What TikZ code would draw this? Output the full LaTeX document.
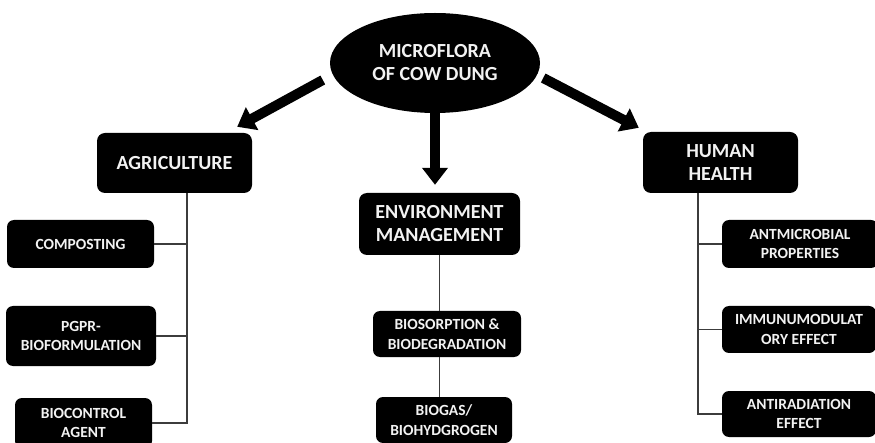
\documentclass[tikz,border=0pt]{standalone}
\usepackage{fontspec}
\setmainfont{Carlito}
\usetikzlibrary{arrows.meta,positioning,shapes.geometric,calc}
\definecolor{linegray}{RGB}{60,60,60}
\definecolor{boxtext}{RGB}{242,242,242}

\begin{document}
\begin{tikzpicture}[
    x=1pt, y=-1pt,
    hub/.style={ellipse, fill=black, text=boxtext, align=center, inner sep=0pt,
      font=\fontsize{20}{23}\selectfont\bfseries},
    catbox/.style={rounded corners=8pt, fill=black, text=boxtext, align=center, inner sep=0pt,
      font=\fontsize{20}{23}\selectfont\bfseries},
    subbox/.style={rounded corners=7pt, fill=black, text=boxtext, align=center, inner sep=0pt,
      font=\fontsize{15.5}{19.5}\selectfont\bfseries},
    bigarrow/.style={line width=10pt, -{Triangle[width=25pt,length=17pt]}},
    link/.style={draw=linegray, line width=1.5pt}
  ]
  \useasboundingbox (0,0) rectangle (875,443);
  \clip (0,0) rectangle (875,443);
  \fill[white] (0,0) rectangle (875,443);

  \node[hub, minimum width=210pt, minimum height=100pt] (micro) at (435,63) {MICROFLORA\\OF COW DUNG};

  \node[catbox, minimum width=155pt, minimum height=60pt] (agri) at (174.5,163) {AGRICULTURE};
  \node[catbox, minimum width=161pt, minimum height=62pt] (env) at (439.5,224) {ENVIRONMENT\\MANAGEMENT};
  \node[catbox, minimum width=155pt, minimum height=61pt] (health) at (720.5,162.5) {HUMAN\\HEALTH};

  \node[subbox, minimum width=147pt, minimum height=48pt] (compost) at (80.5,244) {COMPOSTING};
  \node[subbox, minimum width=150pt, minimum height=60pt] (pgpr) at (81,336) {PGPR-\\BIOFORMULATION};
  \node[subbox, minimum width=137pt, minimum height=50pt] (biocontrol) at (83.5,423) {BIOCONTROL\\AGENT};

  \node[subbox, minimum width=148pt, minimum height=46pt] (biosorp) at (447,334) {BIOSORPTION \&\\BIODEGRADATION};
  \node[subbox, minimum width=136pt, minimum height=46pt] (biogas) at (444,420) {BIOGAS/\\BIOHYDGROGEN};

  \node[subbox, minimum width=156pt, minimum height=48pt] (antimic) at (800,244) {ANTMICROBIAL\\PROPERTIES};
  \node[subbox, minimum width=154pt, minimum height=47pt] (immuno) at (799,329.5) {IMMUNUMODULAT\\ORY EFFECT};
  \node[subbox, minimum width=154pt, minimum height=46pt] (antirad) at (799,414) {ANTIRADIATION\\EFFECT};

  \draw[bigarrow] ([shift={(-7pt,-17pt)}]micro.west) -- ([shift={(-15pt,6pt)}]agri.north east);
  \draw[bigarrow] ([shift={(3pt,-15pt)}]micro.east) -- ([shift={(-4pt,4pt)}]health.north west);
  \coordinate (envtop) at ([yshift=8pt]env.north);
  \draw[bigarrow] (micro.south) -- (micro.south |- envtop);

  \coordinate (agrispine) at ([xshift=12.5pt]agri.south);
  \draw[link] (agrispine) |- (biocontrol.east);
  \draw[link] (compost.east) -- (compost.east -| agrispine);
  \draw[link] (pgpr.east) -- (pgpr.east -| agrispine);

  \draw[link] (env.south) -- (env.south |- biosorp.north);
  \draw[link] (env.south |- biosorp.south) -- (env.south |- biogas.north);

  \coordinate (healthspine) at ([xshift=-22.5pt]health.south);
  \draw[link] (healthspine) |- (antirad.west);
  \draw[link] (antimic.west) -- (antimic.west -| healthspine);
  \draw[link] (immuno.west) -- (immuno.west -| healthspine);
\end{tikzpicture}
\end{document}
